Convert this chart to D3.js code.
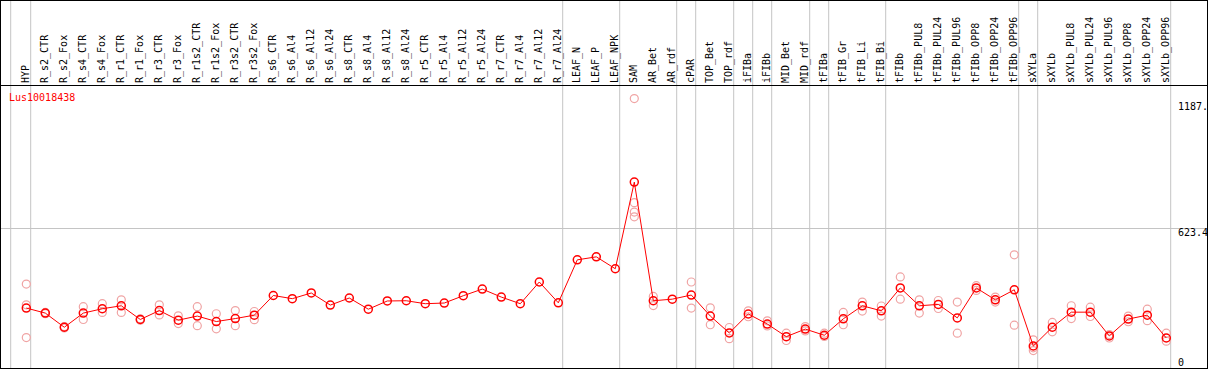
<!DOCTYPE html>
<html>
<head>
<meta charset="utf-8">
<script src="https://cdn.jsdelivr.net/npm/d3@7"></script>
<style>
  body { margin: 0; background: #fff; }
  text { font-family: "DejaVu Sans Mono", monospace; font-size: 10px; }
</style>
</head>
<body>
<svg id="chart"></svg>
<script>
// gene name shown in the corner
const geneName = "Lus10018438";

// sample names (one column each)
const samples = ["HYP", "R_s2_CTR", "R_s2_Fox", "R_s4_CTR", "R_s4_Fox", "R_r1_CTR", "R_r1_Fox",
  "R_r3_CTR", "R_r3_Fox", "R_r1s2_CTR", "R_r1s2_Fox", "R_r3s2_CTR", "R_r3s2_Fox", "R_s6_CTR",
  "R_s6_Al4", "R_s6_Al12", "R_s6_Al24", "R_s8_CTR", "R_s8_Al4", "R_s8_Al12", "R_s8_Al24",
  "R_r5_CTR", "R_r5_Al4", "R_r5_Al12", "R_r5_Al24", "R_r7_CTR", "R_r7_Al4", "R_r7_Al12",
  "R_r7_Al24", "LEAF_N", "LEAF_P", "LEAF_NPK", "SAM", "AR_Bet", "AR_rdf", "cPAR", "TOP_Bet",
  "TOP_rdf", "iFIBa", "iFIBb", "MID_Bet", "MID_rdf", "tFIBa", "tFIB_Gr", "tFIB_Li", "tFIB_Bi",
  "tFIBb", "tFIBb_PUL8", "tFIBb_PUL24", "tFIBb_PUL96", "tFIBb_OPP8", "tFIBb_OPP24",
  "tFIBb_OPP96", "sXYLa", "sXYLb", "sXYLb_PUL8", "sXYLb_PUL24", "sXYLb_PUL96", "sXYLb_OPP8",
  "sXYLb_OPP24", "sXYLb_OPP96"];

// mean expression per sample
const means = [271, 249, 187, 249, 268, 281, 221, 260, 218, 236, 212, 225, 240, 326,
  312, 337, 284, 315, 266, 302, 303, 290, 293, 325, 354, 319, 290, 385,
  294, 482, 495, 443, 822, 303, 310, 328, 236, 162, 245, 201, 146, 179, 152, 224, 281, 259,
  359, 281, 287, 228, 359, 307, 351, 105, 187, 253, 253, 149, 223, 240, 140];

// replicate values per sample
const replicates = [[376, 285, 142], [252, 246], [190, 184], [277, 221], [290, 252], [307, 252], [224, 218],
  [285, 241], [237, 203], [277, 194], [246, 180], [260, 194], [256, 220], [],
  [], [], [], [], [], [], [], [], [], [], [], [], [], [],
  [], [], [], [], [1187.5, 732, 691, 670], [322, 282], [], [385, 271], [272, 198], [186, 137],
  [259, 233], [215, 193], [161, 129], [190, 171], [161, 147], [252, 198], [297, 258], [280, 236],
  [407, 310], [307, 249], [304, 269], [297, 161], [369, 348], [319, 297], [504, 196],
  [132, 85, 97], [208, 167], [281, 225], [275, 234], [155, 140], [236, 211], [266, 216], [161, 126]];

// last sample of each tissue group (a grey divider follows it)
const groupEnds = ["HYP", "R_r7_Al24", "LEAF_NPK", "AR_rdf", "cPAR", "TOP_rdf", "iFIBa", "iFIBb",
  "MID_rdf", "tFIBa", "tFIB_Bi", "tFIBb_OPP96", "sXYLa", "sXYLb_OPP96"];

const width = 1209;
const height = 370;
const headerBottom = 85;

const svg = d3.select("#chart")
    .attr("width", width)
    .attr("height", height);

const xScale = d3.scalePoint()
    .domain(samples)
    .range([26.3, 1166.3]);

const maxVal = d3.max(replicates.flat().concat(means));
const yMax = maxVal * 1.05;

const yScale = d3.scaleLinear()
    .domain([0, yMax])
    .range([370, headerBottom]);

svg.append("clipPath").attr("id", "frame")
  .append("rect")
    .attr("x", 0).attr("y", 0)
    .attr("width", 1207).attr("height", 369);

const root = svg.append("g").attr("clip-path", "url(#frame)");

// grey group dividers
root.append("line")
    .attr("x1", 10.7).attr("x2", 10.7)
    .attr("y1", 0).attr("y2", height)
    .attr("stroke", "#c4c4c4");

root.selectAll(".divider")
    .data(groupEnds)
    .enter().append("line")
    .attr("class", "divider")
    .attr("x1", d => xScale(d) + 4.4)
    .attr("x2", d => xScale(d) + 4.4)
    .attr("y1", 0).attr("y2", height)
    .attr("stroke", "#c4c4c4");

// middle gridline
root.append("line")
    .attr("x1", 0).attr("x2", width)
    .attr("y1", Math.round(yScale(yMax / 2)) + 0.5)
    .attr("y2", Math.round(yScale(yMax / 2)) + 0.5)
    .attr("stroke", "#c4c4c4");

// sample labels, rotated
root.selectAll(".sample-label")
    .data(samples)
    .enter().append("text")
    .attr("class", "sample-label")
    .attr("transform", d => `translate(${xScale(d) + 2.5},83) rotate(-90)`)
    .attr("fill", "#000")
    .text(d => d);

// header separator
root.append("line")
    .attr("x1", 0).attr("x2", width)
    .attr("y1", headerBottom + 0.5).attr("y2", headerBottom + 0.5)
    .attr("stroke", "#000");

// gene name
root.append("text")
    .attr("x", 9).attr("y", 101)
    .attr("fill", "#ff0000")
    .text(geneName);

// value labels on the right (5 characters wide, like the original)
const fmt = v => String(Math.round(v * 10) / 10).slice(0, 5);
root.append("text").attr("x", 1178).attr("y", yScale(maxVal) + 11).text(fmt(maxVal));
root.append("text").attr("x", 1178).attr("y", yScale(yMax / 2) + 8).text(fmt(yMax / 2));
root.append("text").attr("x", 1178).attr("y", yScale(0) - 4).text("0");

// replicate points
const repPoints = [];
replicates.forEach((reps, i) => reps.forEach(v => repPoints.push({ name: samples[i], value: v })));

root.selectAll(".rep")
    .data(repPoints)
    .enter().append("circle")
    .attr("class", "rep")
    .attr("cx", d => xScale(d.name))
    .attr("cy", d => yScale(d.value))
    .attr("r", 4)
    .attr("fill", "none")
    .attr("stroke", "#f0a4a4")
    .attr("stroke-width", 1.2);

// mean line + points
const meanData = samples.map((s, i) => ({ name: s, value: means[i] }));

root.append("path")
    .datum(meanData)
    .attr("fill", "none")
    .attr("stroke", "#ff0000")
    .attr("stroke-width", 1)
    .attr("d", d3.line().x(d => xScale(d.name)).y(d => yScale(d.value)));

root.selectAll(".mean")
    .data(meanData)
    .enter().append("circle")
    .attr("class", "mean")
    .attr("cx", d => xScale(d.name))
    .attr("cy", d => yScale(d.value))
    .attr("r", 4)
    .attr("fill", "none")
    .attr("stroke", "#ff0000")
    .attr("stroke-width", 1.5);

// outer frame
svg.append("rect")
    .attr("x", 0.5).attr("y", 0.5)
    .attr("width", 1207).attr("height", 368)
    .attr("fill", "none")
    .attr("stroke", "#000");
</script>
</body>
</html>
